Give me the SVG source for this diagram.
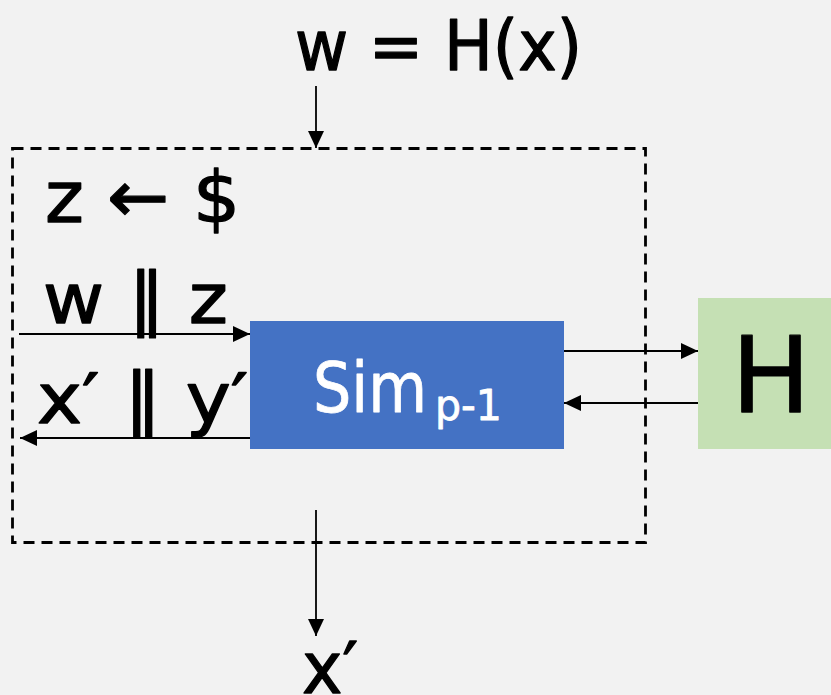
<svg xmlns="http://www.w3.org/2000/svg" width="831" height="695" viewBox="0 0 831 695">
<defs>
<marker id="ah" markerUnits="userSpaceOnUse" markerWidth="17" markerHeight="17" viewBox="0 0 17 17" refX="17" refY="8.5" orient="auto">
<path d="M0,0.5 L17,8.5 L0,16.5 Z" fill="#000"/>
</marker>
<style>
.t{font-family:"DejaVu Sans","Noto Sans",sans-serif;fill:#000;stroke:#000;stroke-width:1.3;stroke-linejoin:round}
.w{fill:#fff;stroke:#fff;stroke-width:0.8}
.c{stroke:#000;stroke-width:1.8;fill:none;marker-end:url(#ah)}
</style>
</defs>
<rect width="831" height="695" fill="#f2f2f2"/>
<g id="box">
<rect x="12.5" y="148.5" width="633" height="394" fill="none" stroke="#000" stroke-width="2.8" stroke-dasharray="11 7"/>
</g>
<g id="sim">
<rect x="250" y="321" width="314" height="128" fill="#4472c4"/>
<text class="t w" x="313" y="412" font-size="70" textLength="114" lengthAdjust="spacingAndGlyphs">Sim</text>
<text class="t w" x="435" y="420" font-size="42" textLength="67" lengthAdjust="spacingAndGlyphs">p-1</text>
</g>
<g id="oracle">
<rect x="698" y="298" width="133" height="151" fill="#c5e0b4"/>
<text class="t" x="771" y="412" font-size="105" text-anchor="middle">H</text>
</g>
<g id="labels">
<text class="t" x="295" y="70" font-size="70" textLength="287" lengthAdjust="spacingAndGlyphs">w = H(x)</text>
<text class="t" x="45" y="222" font-size="72" textLength="195" lengthAdjust="spacingAndGlyphs">z ← $</text>
<text class="t" x="43" y="323" font-size="70" textLength="185" lengthAdjust="spacingAndGlyphs">w ∥ z</text>
<text class="t" x="37" y="423" font-size="70" textLength="211" lengthAdjust="spacingAndGlyphs">x′ ∥ y′</text>
<text class="t" x="302" y="693" font-size="72" textLength="56" lengthAdjust="spacingAndGlyphs">x′</text>
</g>
<g id="connectors">
<line class="c" x1="316" y1="86" x2="316" y2="148"/>
<line class="c" x1="19" y1="334" x2="250" y2="334"/>
<line class="c" x1="250" y1="438" x2="20" y2="438"/>
<line class="c" x1="564" y1="351" x2="698" y2="351"/>
<line class="c" x1="698" y1="403" x2="564" y2="403"/>
<line class="c" x1="316" y1="510" x2="316" y2="636"/>
</g>
</svg>
